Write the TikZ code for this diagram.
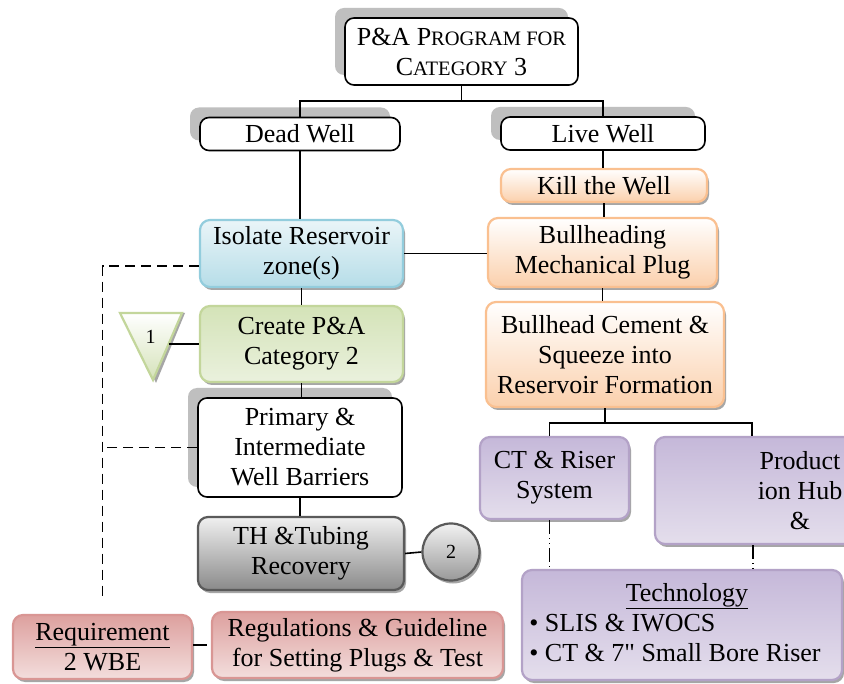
\documentclass[tikz,border=0pt]{standalone}
\usepackage{fontspec}
\setmainfont{Liberation Serif}[Ligatures=TeXOff]
\usetikzlibrary{shadows}
\definecolor{blueline}{HTML}{93CDDD}
\definecolor{bluetop}{HTML}{EAF5F8}
\definecolor{bluebot}{HTML}{B6DDE8}
\definecolor{greenline}{HTML}{C3D69B}
\definecolor{greentop}{HTML}{D4E3B8}
\definecolor{greenbot}{HTML}{EAF1DD}
\definecolor{orangeline}{HTML}{FAC090}
\definecolor{orangebot}{HTML}{FBD0AC}
\definecolor{grayline}{HTML}{5A5A5A}
\definecolor{graybot}{HTML}{8A8A8A}
\definecolor{redline}{HTML}{D99694}
\definecolor{redtop}{HTML}{DDA09E}
\definecolor{redbot}{HTML}{F3DEDD}
\definecolor{purpleline}{HTML}{B3A2C7}
\definecolor{purpletop}{HTML}{C5B8D9}
\definecolor{purplebot}{HTML}{E4DEEC}
\newcommand{\smcp}[1]{{\fontsize{20.5}{30}\selectfont #1}}

\begin{document}
\begin{tikzpicture}[x=1pt,y=-1pt,
        txt/.style={font=\fontsize{26}{30}\selectfont, align=center, inner sep=0pt},
        plain/.style={txt, draw=black, line width=1.6pt, rounded corners=9pt, fill=white,
            drop shadow={shadow xshift=-10pt, shadow yshift=10pt, fill=black!25, opacity=1}},
        colbox/.style={txt, line width=2.2pt, rounded corners=10pt,
            drop shadow={shadow xshift=2pt, shadow yshift=-3pt, fill=black!35, opacity=1}},
        bluebox/.style={colbox, draw=blueline, top color=bluetop, bottom color=bluebot},
        greenbox/.style={colbox, draw=greenline, top color=greentop, bottom color=greenbot},
        orangebox/.style={colbox, draw=orangeline, top color=white, bottom color=orangebot},
        graybox/.style={colbox, draw=grayline, top color=black!6, bottom color=graybot},
        redbox/.style={colbox, draw=redline, top color=redtop, bottom color=redbot},
        purplebox/.style={colbox, draw=purpleline, top color=purpletop, bottom color=purplebot},
        link/.style={draw=black, line width=1.6pt},
        dlink/.style={draw=black, line width=1.6pt, dash pattern=on 10pt off 6pt},
        dotlink/.style={draw=black, line width=1.4pt, dash pattern=on 14pt off 4pt on 1pt off 4pt on 1pt off 4pt}]
        \useasboundingbox[fill=white] (0,0) rectangle (844,684);
        \clip (0,0) rectangle (844,684);
        \node[plain, minimum width=233pt, minimum height=67pt] (prog) at (461.5,51.5)
            {P\&A P\smcp{ROGRAM FOR}\\C\smcp{ATEGORY} 3};
        \node[plain, minimum width=200pt, minimum height=33pt] (dead) at (300,134) {Dead Well};
        \node[plain, minimum width=204pt, minimum height=33pt] (live) at (603,133.5) {Live Well};
        \node[orangebox, minimum width=206pt, minimum height=33pt] (kill) at (604,185.5) {Kill the Well};
        \node[bluebox, minimum width=203pt, minimum height=67pt] (iso) at (301.5,253.5) {Isolate Reservoir\\zone(s)};
        \node[orangebox, minimum width=229pt, minimum height=69pt] (mech) at (602.5,252.5) {Bullheading\\Mechanical Plug};
        \node[greenbox, minimum width=203pt, minimum height=76pt] (create) at (301.5,344) {Create P\&A\\Category 2};
        \node[orangebox, minimum width=238pt, minimum height=105pt] (cement) at (605,354.5)
            {Bullhead Cement \&\\Squeeze into\\Reservoir Formation};
        \node[plain, minimum width=204pt, minimum height=99pt] (prim) at (300,447.5) {Primary \&\\Intermediate\\Well Barriers};
        \node[graybox, minimum width=206pt, minimum height=73pt] (th) at (301,553.5) {TH \&Tubing\\Recovery};
        \node[graybox, circle, minimum size=57pt, top color=black!5, bottom color=black!40,
            font=\fontsize{20}{24}\selectfont] (circ) at (451,552) {2};
        \node[purplebox, minimum width=149pt, minimum height=82pt] (ct) at (554.5,478) {CT \& Riser\\System};
        \node[purplebox, minimum width=290pt, minimum height=107pt] (prod) at (800,490.5) {Product\\ion Hub\\\&};
        \node[purplebox, minimum width=320pt, minimum height=110pt] (tech) at (682,625)
            {\begin{tabular}{@{}l@{}}\multicolumn{1}{c}{\hspace*{24pt}\underline{Technology}}\\
             \textbullet\ SLIS \& IWOCS\\ \textbullet\ CT \& 7" Small Bore Riser\end{tabular}\hspace*{14pt}};
        \node[redbox, minimum width=179pt, minimum height=64pt] (req) at (102.5,647) {\underline{Requirement}\\2 WBE};
        \node[redbox, minimum width=291pt, minimum height=66pt] (reg) at (357.5,645)
            {Regulations \& Guideline\\for Setting Plugs \& Test};
        \coordinate (t1) at (120,313);
        \coordinate (t2) at (182,313);
        \coordinate (t3) at (153,380);
        \fill[black!35] ([xshift=3pt]t1) -- ([xshift=3pt]t2) -- ([xshift=3pt,yshift=-3pt]t3) -- cycle;
        \draw[greenline, line width=2.2pt, top color=white, bottom color=greenline!70] (t1) -- (t2) -- (t3) -- cycle;
        \path (t2) -- (t3) coordinate[pos=0.46] (tedge);
        \node[txt, font=\fontsize{20}{24}\selectfont] (one) at (150.5,337) {1};
        \draw[link] (prog.south) -- ++(0,15);
        \draw[link] (dead.north) |- ([yshift=-15pt]prog.south) -| (live.north);
        \draw[link] (dead.south) -- (dead.south |- iso.north);
        \draw[link] (iso.south) -- (iso.south |- create.north);
        \draw[link] (create.south) -- (create.south |- prim.north);
        \draw[link] (prim.south) -- (prim.south |- th.north);
        \draw[link] (th.east) -- (circ.west);
        \draw[link] (tedge) -- (tedge -| create.west);
        \draw[link] (iso.east) -- (iso.east -| mech.west);
        \draw[link] (live.south) -- (live.south |- kill.north);
        \draw[link] (kill.south) -- (kill.south |- mech.north);
        \draw[link] (mech.south) -- (mech.south |- cement.north);
        \draw[link] (cement.south) -- ++(0,15);
        \draw[link] ([xshift=-5pt]ct.north) |- ([yshift=-15pt]cement.south) -| ([xshift=-48pt]prod.north);
        \draw[dotlink] ([xshift=-5pt]ct.south) -- ([xshift=-5pt]ct.south |- tech.north);
        \draw[dotlink] ([xshift=-47pt]prod.south) -- ([xshift=-47pt]prod.south |- tech.north);
        \draw[dlink] ([yshift=-12.5pt]iso.west) -| ([yshift=15pt]req.north);
        \draw[dlink] (prim.west) -- (prim.west -| req.north);
        \draw[dotlink] (reg.west -| req.east) -- (reg.west);
    \end{tikzpicture}
\end{document}
